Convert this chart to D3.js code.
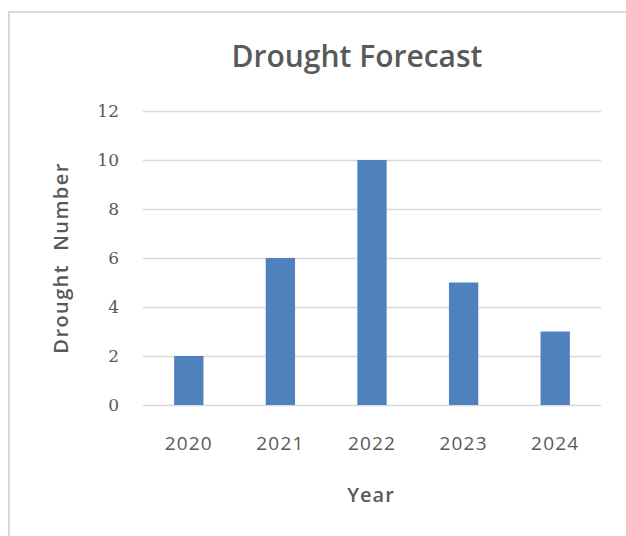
<!DOCTYPE html>
<html><head><meta charset="utf-8">
<script src="https://cdn.jsdelivr.net/npm/d3@7"></script>
<style>body{margin:0;background:#fff}svg{display:block}</style>
</head><body>
<script>
const years = ["2020","2021","2022","2023","2024"];
const droughts = [2, 6, 10, 5, 3];
const yTicks = [0, 2, 4, 6, 8, 10, 12];
const title = "Drought Forecast";
const xTitle = "Year";
const yTitle = "Drought  Number";

const W = 626, H = 536;
const svg = d3.select("body").append("svg").attr("width", W).attr("height", H);
svg.append("rect").attr("x", 9).attr("y", 12).attr("width", 640).attr("height", 560)
  .attr("fill", "#fff").attr("stroke", "#d9d9d9").attr("stroke-width", 2);

const m = {left: 143, right: 601, top: 111, bottom: 405};
const x = d3.scaleBand().domain(years).range([m.left, m.right]).paddingInner(0.68).paddingOuter(0.34);
const y = d3.scaleLinear().domain([0, 12]).range([m.bottom, m.top]);

const grid = svg.append("g").call(d3.axisLeft(y).tickValues(yTicks).tickSize(-(m.right - m.left)).tickFormat(""))
  .attr("transform", `translate(${m.left},0)`);
grid.select(".domain").remove();
grid.selectAll("line").attr("stroke", "#d9d9d9").attr("stroke-width", 1.5);

const yl = svg.append("g").attr("transform", `translate(${m.left},0)`)
  .call(d3.axisLeft(y).tickValues(yTicks).tickSize(0).tickPadding(24));
yl.select(".domain").remove();
yl.selectAll("text").attr("font-family", "DejaVu Serif").attr("font-size", 17).attr("fill", "#595959");

svg.append("g").selectAll("rect").data(droughts).join("rect")
  .attr("x", (d, i) => x(years[i])).attr("width", x.bandwidth())
  .attr("y", d => y(d)).attr("height", d => y(0) - y(d)).attr("fill", "#4f81bd");

const xl = svg.append("g").attr("transform", `translate(0,${m.bottom})`)
  .call(d3.axisBottom(x).tickSize(0).tickPadding(32));
xl.select(".domain").remove();
xl.selectAll("text").attr("font-family", "Open Sans").attr("font-size", 19).attr("fill", "#595959").attr("letter-spacing", 1.2);

svg.append("text").attr("x", 357).attr("y", 67).attr("text-anchor", "middle")
  .attr("font-family", "Open Sans").attr("font-weight", 600).attr("font-size", 30).attr("fill", "#595959").text(title);
svg.append("text").attr("x", 371).attr("y", 502).attr("text-anchor", "middle")
  .attr("font-family", "Open Sans").attr("font-weight", 600).attr("font-size", 20).attr("fill", "#595959").attr("letter-spacing", 1).text(xTitle);
svg.append("text").attr("transform", "translate(68,258) rotate(-90)").attr("text-anchor", "middle")
  .attr("font-family", "Open Sans").attr("font-weight", 600).attr("font-size", 20).attr("fill", "#595959").attr("letter-spacing", 1.4).style("white-space","pre").text(yTitle);
</script>
</body></html>
